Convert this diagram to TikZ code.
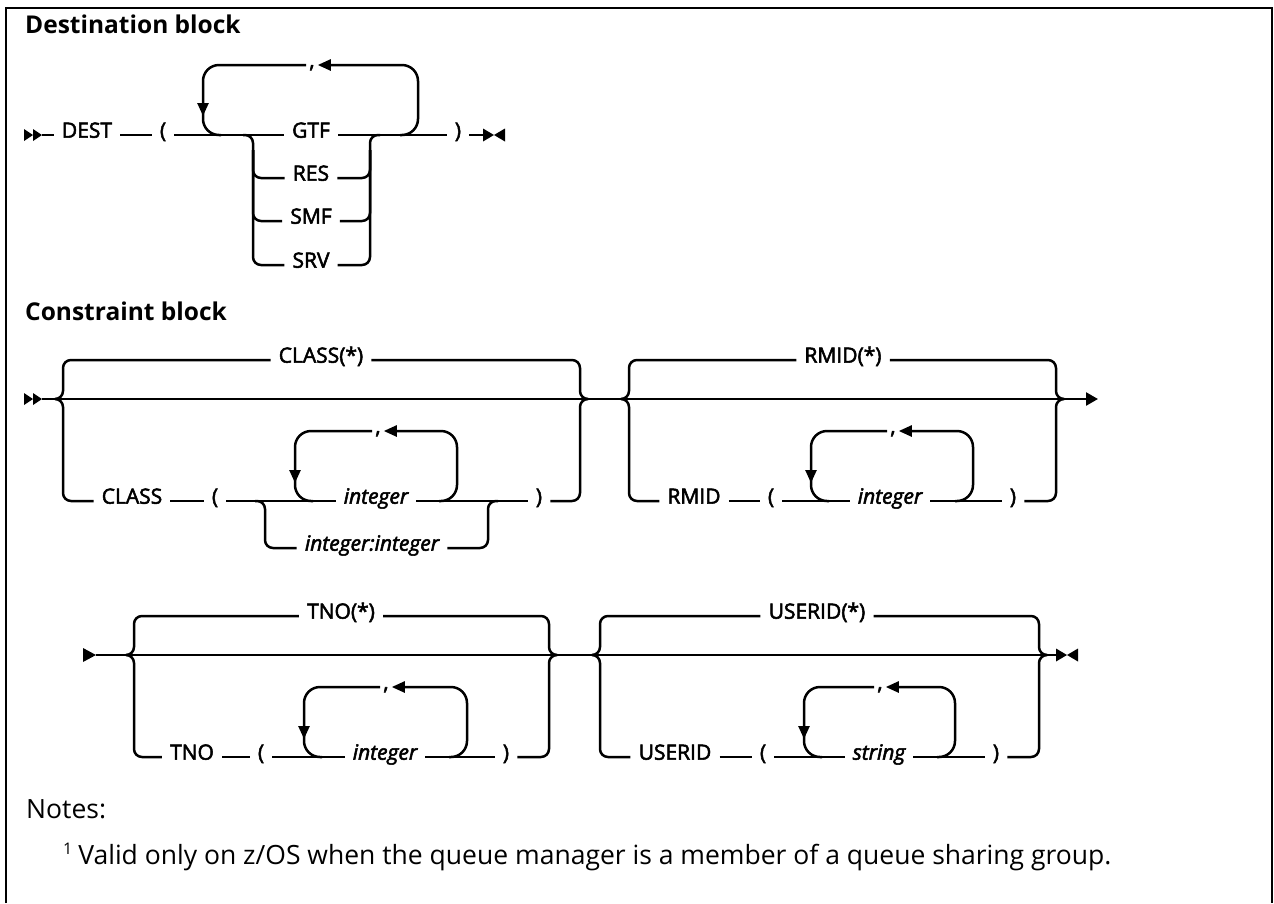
\documentclass[tikz,border=0pt]{standalone}
\usepackage{fontspec}
\setmainfont{Open Sans}
\newfontfamily\railfont[FakeBold=2.5]{Open Sans}
\usetikzlibrary{arrows.meta}
\newcommand{\lblsize}{\fontsize{21}{25}\selectfont}

\begin{document}
\begin{tikzpicture}[x=1pt, y=-1pt,
  rail/.style={line width=2.5pt, rounded corners=8pt},
  loopy/.style={rail, rounded corners=16pt},
  tipped/.style={-{Triangle[length=13pt,width=11pt]}},
  lbl/.style={font=\railfont\lblsize, inner xsep=8pt, inner ysep=2pt, anchor=mid},
  var/.style={lbl, font=\railfont\lblsize\itshape},
  sep/.style={lbl, inner xsep=3pt},
  heading/.style={font=\fontsize{24.5}{29}\selectfont\bfseries, anchor=base west, inner sep=0pt},
  note/.style={font=\fontsize{26.5}{31}\selectfont, anchor=base west, inner sep=0pt},
  twohead/.pic={\fill (0,-6) -- (9,0) -- (0,6) -- cycle (9,-6) -- (18,0) -- (9,6) -- cycle;},
  onehead/.pic={\fill (0,-7) -- (13,0) -- (0,7) -- cycle;},
  bowtie/.pic={\fill (0,-6.5) -- (11,0) -- (0,6.5) -- cycle (22,-6.5) -- (11,0) -- (22,6.5) -- cycle;},
]
\useasboundingbox (0,0) rectangle (1274,903);
\draw[line width=2.5pt] (6,903) -- (6,8) -- (1272,8) -- (1272,903);

% destination block
\node[heading] (dtitle) at (25,33) {Destination block};
\pic at (24,135) {twohead};
\coordinate (dstart) at (42,135);
\node[lbl] (dest) at (87,135) {DEST};
\node[lbl] (dlp) at (163,135) {(};
\foreach \n/\t/\y in {gtf/GTF/135, res/RES/178, smf/SMF/221, srv/SRV/265}
  \node[lbl] (\n) at (311,\y) {\t};
\node[lbl] (drp) at (458,135) {)};
\node[sep] (dcomma) at (312,65) {,};
\coordinate (dend) at (483,135);
\pic at (dend) {bowtie};

\draw[rail] (dstart) -- (dest.mid west);
\draw[rail] (dest.mid east) -- (dlp.mid west);
\draw[rail] (dlp.mid east) -- (gtf.mid west);
\draw[rail] (gtf.mid east) -- (drp.mid west);
\draw[rail] (drp.mid east) -- (dend);
% choices
\draw[rail] (243,135) -| (253,265) -- (srv.mid west);
\draw[rail] (srv.mid east) -| (370,135) -- (380,135);
\foreach \n in {res,smf} {
  \draw[rail] (253,150) |- (\n.mid west);
  \draw[rail] (\n.mid east) -| (370,150);
}
% repeat
\draw[loopy, tipped] (400,135) -| (418,65) -- (dcomma.mid east);
\draw[loopy, tipped] (dcomma.mid west) -| (203,116);
\draw[loopy] (203,108) |- (221,135);

% constraint block, first line
\node[heading] (ctitle) at (25,320) {Constraint block};
\pic at (24,399) {twohead};
\coordinate (cstart) at (42,399);
\coordinate (cnext) at (1098,399);
\draw[rail, -{Triangle[length=12pt,width=13pt]}] (cstart) -- (cnext);

% CLASS
\node[lbl] (clsall) at (321,360) {CLASS(*)};
\node[lbl] (cls) at (132,501) {CLASS};
\node[lbl] (clp) at (215,501) {(};
\node[var] (cint) at (376,501) {integer};
\node[var] (crange) at (372,548) {integer:integer};
\node[sep] (ccomma) at (378,431) {,};
\node[lbl] (crp) at (539,501) {)};
\draw[rail] (55,399) -| (63,360) -- (clsall.mid west);
\draw[rail] (clsall.mid east) -| (580,399) -- (588,399);
\draw[rail] (55,399) -| (63,501) -- (cls.mid west);
\draw[rail] (cls.mid east) -- (clp.mid west);
\draw[rail] (clp.mid east) -- (cint.mid west);
\draw[rail] (cint.mid east) -- (crp.mid west);
\draw[rail] (crp.mid east) -| (580,399) -- (588,399);
\draw[rail] (255,501) -| (265,548) -- (crange.mid west);
\draw[rail] (crange.mid east) -| (488,501) -- (498,501);
\draw[loopy, tipped] (439,501) -| (457,431) -- (ccomma.mid east);
\draw[loopy, tipped] (ccomma.mid west) -| (295,483);
\draw[loopy] (295,475) |- (313,501);

% RMID
\node[lbl] (rmall) at (843,360) {RMID(*)};
\node[lbl] (rm) at (694,501) {RMID};
\node[lbl] (rlp) at (771,501) {(};
\node[var] (rint) at (890,501) {integer};
\node[sep] (rcomma) at (893,431) {,};
\node[lbl] (rrp) at (1013,501) {)};
\draw[rail] (621,399) -| (629,360) -- (rmall.mid west);
\draw[rail] (rmall.mid east) -| (1056,399) -- (1064,399);
\draw[rail] (621,399) -| (629,501) -- (rm.mid west);
\draw[rail] (rm.mid east) -- (rlp.mid west);
\draw[rail] (rlp.mid east) -- (rint.mid west);
\draw[rail] (rint.mid east) -- (rrp.mid west);
\draw[rail] (rrp.mid east) -| (1056,399) -- (1064,399);
\draw[loopy, tipped] (955,501) -| (973,431) -- (rcomma.mid east);
\draw[loopy, tipped] (rcomma.mid west) -| (811,483);
\draw[loopy] (811,475) |- (829,501);

% second line
\pic at (83,655) {onehead};
\coordinate (tstart) at (96,655);
\coordinate (tend) at (1056,655);
\draw[rail] (tstart) -- (tend);
\pic at (tend) {bowtie};

% TNO
\node[lbl] (tnall) at (341,616) {TNO(*)};
\node[lbl] (tn) at (192,757) {TNO};
\node[lbl] (tlp) at (261,757) {(};
\node[var] (tint) at (385,757) {integer};
\node[sep] (tcomma) at (386,687) {,};
\node[lbl] (trp) at (506,757) {)};
\draw[rail] (126,655) -| (134,616) -- (tnall.mid west);
\draw[rail] (tnall.mid east) -| (549,655) -- (557,655);
\draw[rail] (126,655) -| (134,757) -- (tn.mid west);
\draw[rail] (tn.mid east) -- (tlp.mid west);
\draw[rail] (tlp.mid east) -- (tint.mid west);
\draw[rail] (tint.mid east) -- (trp.mid west);
\draw[rail] (trp.mid east) -| (549,655) -- (557,655);
\draw[loopy, tipped] (449,757) -| (467,687) -- (tcomma.mid east);
\draw[loopy, tipped] (tcomma.mid west) -| (304,739);
\draw[loopy] (304,731) |- (322,757);

% USERID
\node[lbl] (uall) at (817,616) {USERID(*)};
\node[lbl] (usr) at (675,757) {USERID};
\node[lbl] (ulp) at (763,757) {(};
\node[var] (ustr) at (879,757) {string};
\node[sep] (ucomma) at (880,687) {,};
\node[lbl] (urp) at (996,757) {)};
\draw[rail] (592,655) -| (600,616) -- (uall.mid west);
\draw[rail] (uall.mid east) -| (1039,655) -- (1047,655);
\draw[rail] (592,655) -| (600,757) -- (usr.mid west);
\draw[rail] (usr.mid east) -- (ulp.mid west);
\draw[rail] (ulp.mid east) -- (ustr.mid west);
\draw[rail] (ustr.mid east) -- (urp.mid west);
\draw[rail] (urp.mid east) -| (1039,655) -- (1047,655);
\draw[loopy, tipped] (937,757) -| (955,687) -- (ucomma.mid east);
\draw[loopy, tipped] (ucomma.mid west) -| (804,739);
\draw[loopy] (804,731) |- (822,757);

% notes
\node[note] (notes) at (26,818) {Notes:};
\node[note] (fn1) at (63,864) {\raisebox{10pt}{\fontsize{16}{16}\selectfont 1}\hspace{6pt}Valid only on z/OS when the queue manager is a member of a queue sharing group.};
\end{tikzpicture}
\end{document}
